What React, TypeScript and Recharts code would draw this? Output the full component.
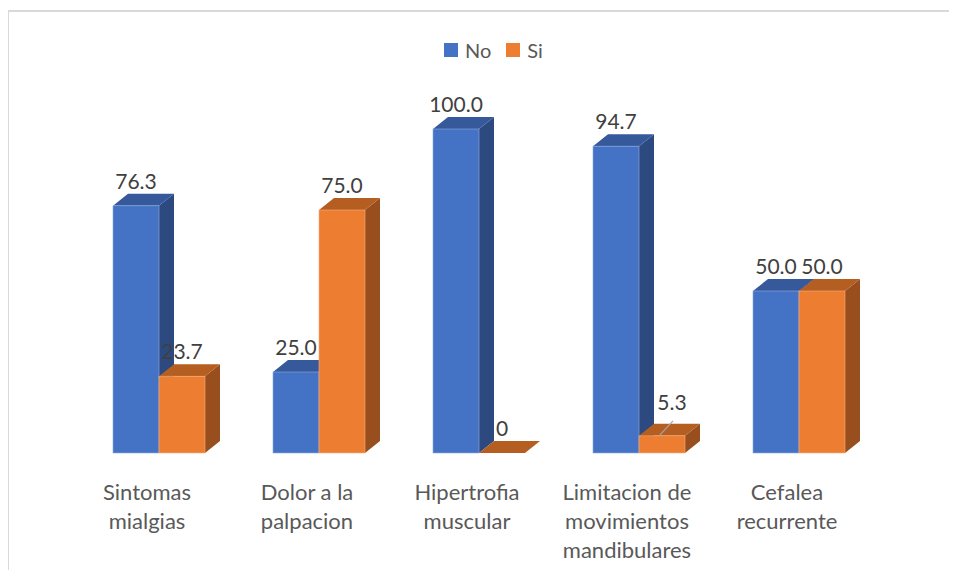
import React from 'react';
import { BarChart, Bar, XAxis, YAxis, LabelList } from 'recharts';

const categories = [
  'Sintomas\nmialgias',
  'Dolor a la\npalpacion',
  'Hipertrofia\nmuscular',
  'Limitacion de\nmovimientos\nmandibulares',
  'Cefalea\nrecurrente',
];
const noValues = [76.3, 25.0, 100.0, 94.7, 50.0];
const siValues = [23.7, 75.0, 0, 5.3, 50.0];

const data = categories.map((name, i) => ({ name, no: noValues[i], si: siValues[i] }));

const COLORS = {
  no: { front: '#4472C4', top: '#35599B', side: '#2C4A80', edge: '#8FAADC' },
  si: { front: '#ED7D31', top: '#B55E22', side: '#984E1D', edge: '#F4B183' },
};

const DX = 15;
const DY = 12;
const FONT = 'Lato, "Open Sans", sans-serif';

const make3D = (c: typeof COLORS.no) => (props: any) => {
  const { x, y, width: w, height: h } = props;
  return (
    <g>
      <polygon
        points={`${x + w},${y} ${x + w + DX},${y - DY} ${x + w + DX},${y + h - DY} ${x + w},${y + h}`}
        fill={c.side}
      />
      <polygon
        points={`${x},${y} ${x + DX},${y - DY} ${x + w + DX},${y - DY} ${x + w},${y}`}
        fill={c.top}
      />
      <rect x={x} y={y} width={w} height={h} fill={c.front} stroke={c.edge} strokeWidth={0.6} />
    </g>
  );
};

const fmt = (v: number) => (v === 0 ? '0' : v.toFixed(1));

const ValueLabel = (props: any) => {
  const { x, y, width, value } = props;
  const cx = x + width / 2;
  if (value > 0 && value < 10) {
    return (
      <g>
        <line x1={cx - 2} y1={y - 1} x2={cx + 11} y2={y - 15} stroke="#A6A6A6" strokeWidth={1.2} />
        <text x={cx + 10} y={y - 26} textAnchor="middle" fontSize={21} fill="#404040" fontFamily={FONT}>
          {fmt(value)}
        </text>
      </g>
    );
  }
  return (
    <text x={cx} y={y - 17} textAnchor="middle" fontSize={21} fill="#404040" fontFamily={FONT}>
      {fmt(value)}
    </text>
  );
};

const CategoryTick = (props: any) => {
  const { x, y, payload } = props;
  const lines = String(payload.value).split('\n');
  return (
    <text x={x - 12} y={y} textAnchor="middle" fontSize={22} fill="#595959" fontFamily={FONT}>
      {lines.map((l, i) => (
        <tspan key={i} x={x - 12} dy={i === 0 ? 47 : 29}>
          {l}
        </tspan>
      ))}
    </text>
  );
};

export default function App() {
  return (
    <div style={{ position: 'relative', width: 949, height: 562, overflow: 'hidden' }}>
      <div style={{ position: 'absolute', left: 0, top: 2, width: 949, height: 2, background: '#D9D9D9' }} />
      <div style={{ position: 'absolute', left: 0, top: 2, width: 1, height: 560, background: '#D9D9D9' }} />
      <div
        style={{
          position: 'absolute',
          left: 436,
          top: 30,
          display: 'flex',
          alignItems: 'center',
          fontFamily: FONT,
          fontSize: 20,
          color: '#595959',
          lineHeight: '24px',
        }}
      >
        <span style={{ width: 14, height: 14, background: COLORS.no.front, marginRight: 7 }} />
        <span style={{ marginRight: 15 }}>No</span>
        <span style={{ width: 14, height: 14, background: COLORS.si.front, marginRight: 7 }} />
        <span>Si</span>
      </div>
      <BarChart
        width={949}
        height={570}
        data={data}
        margin={{ top: 121, right: 78, bottom: 65, left: 71 }}
        barGap={0}
        barSize={46}
      >
        <XAxis dataKey="name" axisLine={false} tickLine={false} tickSize={0} tickMargin={0} height={60} tick={CategoryTick} interval={0} />
        <YAxis hide domain={[0, 100]} />
        <Bar dataKey="no" name="No" shape={make3D(COLORS.no)} isAnimationActive={false}>
          <LabelList dataKey="no" content={ValueLabel} />
        </Bar>
        <Bar dataKey="si" name="Si" shape={make3D(COLORS.si)} isAnimationActive={false}>
          <LabelList dataKey="si" content={ValueLabel} />
        </Bar>
      </BarChart>
    </div>
  );
}
